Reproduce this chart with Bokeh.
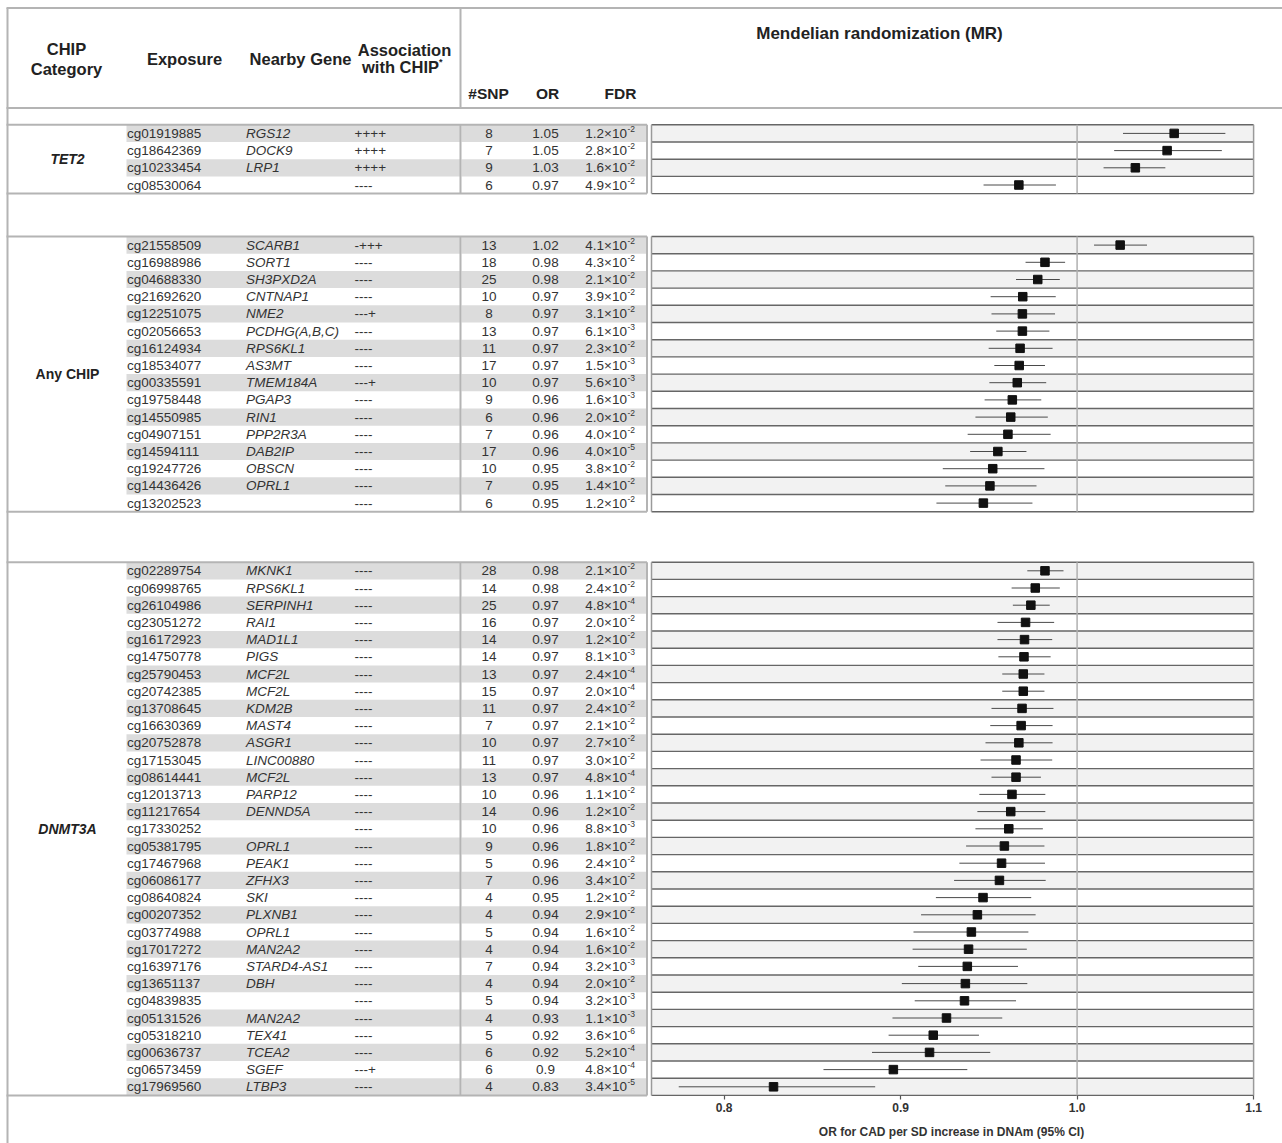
from bokeh.plotting import figure
from bokeh.models import ColumnDataSource, Range1d, LinearAxis, FixedTicker, PrintfTickFormatter
from bokeh.core.properties import value
from bokeh.embed import file_html
from bokeh.resources import INLINE

# ------------------------------------------------------------------ data
categories = ["TET2", "Any CHIP", "DNMT3A"]

tet2_exposure = ["cg01919885", "cg18642369", "cg10233454", "cg08530064"]
tet2_gene = ["RGS12", "DOCK9", "LRP1", ""]
tet2_assoc = ["++++", "++++", "++++", "----"]
tet2_snp = [8, 7, 9, 6]
tet2_or = ["1.05", "1.05", "1.03", "0.97"]
tet2_fdr_mant = ["1.2", "2.8", "1.6", "4.9"]
tet2_fdr_exp = ["-2", "-2", "-2", "-2"]
tet2_est = [1.055, 1.051, 1.033, 0.967]
tet2_lo = [1.026, 1.021, 1.015, 0.947]
tet2_hi = [1.084, 1.082, 1.050, 0.988]

any_exposure = ["cg21558509", "cg16988986", "cg04688330", "cg21692620", "cg12251075",
                "cg02056653", "cg16124934", "cg18534077", "cg00335591", "cg19758448",
                "cg14550985", "cg04907151", "cg14594111", "cg19247726", "cg14436426",
                "cg13202523"]
any_gene = ["SCARB1", "SORT1", "SH3PXD2A", "CNTNAP1", "NME2", "PCDHG(A,B,C)", "RPS6KL1",
            "AS3MT", "TMEM184A", "PGAP3", "RIN1", "PPP2R3A", "DAB2IP", "OBSCN", "OPRL1", ""]
any_assoc = ["-+++", "----", "----", "----", "---+", "----", "----", "----", "---+",
             "----", "----", "----", "----", "----", "----", "----"]
any_snp = [13, 18, 25, 10, 8, 13, 11, 17, 10, 9, 6, 7, 17, 10, 7, 6]
any_or = ["1.02", "0.98", "0.98", "0.97", "0.97", "0.97", "0.97", "0.97", "0.97",
          "0.96", "0.96", "0.96", "0.96", "0.95", "0.95", "0.95"]
any_fdr_mant = ["4.1", "4.3", "2.1", "3.9", "3.1", "6.1", "2.3", "1.5", "5.6", "1.6",
                "2.0", "4.0", "4.0", "3.8", "1.4", "1.2"]
any_fdr_exp = ["-2", "-2", "-2", "-2", "-2", "-3", "-2", "-3", "-3", "-3",
               "-2", "-2", "-5", "-2", "-2", "-2"]
any_est = [1.0244, 0.9818, 0.9777, 0.9692, 0.9690, 0.9690, 0.9677, 0.9672, 0.9661,
           0.9633, 0.9624, 0.9608, 0.9551, 0.9522, 0.9506, 0.9469]
any_lo = [1.0096, 0.9708, 0.9654, 0.9510, 0.9515, 0.9542, 0.9499, 0.9531, 0.9503,
          0.9476, 0.9424, 0.9380, 0.9394, 0.9239, 0.9253, 0.9203]
any_hi = [1.0396, 0.9932, 0.9902, 0.9879, 0.9875, 0.9843, 0.9861, 0.9818, 0.9825,
          0.9797, 0.9834, 0.9850, 0.9713, 0.9815, 0.9770, 0.9747]

dnmt_exposure = ["cg02289754", "cg06998765", "cg26104986", "cg23051272", "cg16172923",
                 "cg14750778", "cg25790453", "cg20742385", "cg13708645", "cg16630369",
                 "cg20752878", "cg17153045", "cg08614441", "cg12013713", "cg11217654",
                 "cg17330252", "cg05381795", "cg17467968", "cg06086177", "cg08640824",
                 "cg00207352", "cg03774988", "cg17017272", "cg16397176", "cg13651137",
                 "cg04839835", "cg05131526", "cg05318210", "cg00636737", "cg06573459",
                 "cg17969560"]
dnmt_gene = ["MKNK1", "RPS6KL1", "SERPINH1", "RAI1", "MAD1L1", "PIGS", "MCF2L", "MCF2L",
             "KDM2B", "MAST4", "ASGR1", "LINC00880", "MCF2L", "PARP12", "DENND5A", "",
             "OPRL1", "PEAK1", "ZFHX3", "SKI", "PLXNB1", "OPRL1", "MAN2A2", "STARD4-AS1",
             "DBH", "", "MAN2A2", "TEX41", "TCEA2", "SGEF", "LTBP3"]
dnmt_assoc = ["----"] * 29 + ["---+", "----"]
dnmt_snp = [28, 14, 25, 16, 14, 14, 13, 15, 11, 7, 10, 11, 13, 10, 14, 10, 9, 5, 7, 4,
            4, 5, 4, 7, 4, 5, 4, 5, 6, 6, 4]
dnmt_or = ["0.98", "0.98", "0.97", "0.97", "0.97", "0.97", "0.97", "0.97", "0.97", "0.97",
           "0.97", "0.97", "0.97", "0.96", "0.96", "0.96", "0.96", "0.96", "0.96", "0.95",
           "0.94", "0.94", "0.94", "0.94", "0.94", "0.94", "0.93", "0.92", "0.92", "0.9",
           "0.83"]
dnmt_fdr_mant = ["2.1", "2.4", "4.8", "2.0", "1.2", "8.1", "2.4", "2.0", "2.4", "2.1",
                 "2.7", "3.0", "4.8", "1.1", "1.2", "8.8", "1.8", "2.4", "3.4", "1.2",
                 "2.9", "1.6", "1.6", "3.2", "2.0", "3.2", "1.1", "3.6", "5.2", "4.8",
                 "3.4"]
dnmt_fdr_exp = ["-2", "-2", "-4", "-2", "-2", "-3", "-4", "-4", "-2", "-2",
                "-2", "-2", "-4", "-2", "-2", "-3", "-2", "-2", "-2", "-2",
                "-2", "-2", "-2", "-3", "-2", "-3", "-3", "-6", "-4", "-4",
                "-5"]
dnmt_est = [0.9818, 0.9763, 0.9738, 0.9708, 0.9702, 0.9699, 0.9695, 0.9695, 0.9688, 0.9683,
            0.9670, 0.9654, 0.9654, 0.9631, 0.9624, 0.9613, 0.9588, 0.9572, 0.9560, 0.9467,
            0.9435, 0.9401, 0.9385, 0.9378, 0.9367, 0.9362, 0.9260, 0.9185, 0.9164, 0.8959,
            0.8280]
dnmt_lo = [0.9718, 0.9629, 0.9636, 0.9549, 0.9549, 0.9554, 0.9576, 0.9576, 0.9515, 0.9508,
           0.9481, 0.9453, 0.9515, 0.9446, 0.9435, 0.9424, 0.9371, 0.9333, 0.9303, 0.9200,
           0.9116, 0.9073, 0.9068, 0.9100, 0.9007, 0.9080, 0.8954, 0.8932, 0.8838, 0.8563,
           0.7743]
dnmt_hi = [0.9923, 0.9902, 0.9845, 0.9870, 0.9859, 0.9850, 0.9815, 0.9815, 0.9866, 0.9861,
           0.9861, 0.9859, 0.9795, 0.9820, 0.9820, 0.9806, 0.9815, 0.9818, 0.9822, 0.9740,
           0.9765, 0.9724, 0.9715, 0.9665, 0.9718, 0.9654, 0.9576, 0.9444, 0.9508, 0.9378,
           0.8856]

header_texts = ["CHIP", "Category", "Exposure", "Nearby Gene", "Association", "with CHIP"]
stat_headers = ["#SNP", "OR", "FDR"]
mr_title = "Mendelian randomization (MR)"
tick_values = [0.8, 0.9, 1.0, 1.1]
axis_title = "OR for CAD per SD increase in DNAm (95% CI)"

# ------------------------------------------------------------------ layout
FONT = "Liberation Sans"
TXT = "#333333"
PX_REF, PX_PER_UNIT = 1076.6, 1765.0
W, H = 1282, 1143


def X(px):
    """page pixel column -> data x (OR units)"""
    return 1.0 + (px - PX_REF) / PX_PER_UNIT


PITCH = 17.2
section_tops = [124.3, 236.0, 561.7]
FOREST_L, FOREST_R = X(651), 1.1
BOX_EDGE = "#b4b4b4"

p = figure(width=W, height=H, x_range=Range1d(X(0), X(W)),
           y_range=Range1d(H, 0), output_backend="svg", toolbar_location=None,
           min_border=0, x_axis_type=None, y_axis_type=None)
p.outline_line_color = None
p.background_fill_color = "white"
p.border_fill_color = "white"

# header frame
p.segment(x0=[X(6), X(6)], y0=[7.5, 107.5], x1=[X(W), X(W)], y1=[7.5, 107.5],
          line_color=BOX_EDGE, line_width=2)
p.segment(x0=[X(460)], y0=[7.5], x1=[X(460)], y1=[107.5], line_color=BOX_EDGE, line_width=2)
# outer left border, full height
p.segment(x0=[X(7)], y0=[7.5], x1=[X(7)], y1=[H], line_color=BOX_EDGE, line_width=2)

sections = [
    (categories[0], "bold italic", tet2_exposure, tet2_gene, tet2_assoc, tet2_snp, tet2_or,
     tet2_fdr_mant, tet2_fdr_exp, tet2_est, tet2_lo, tet2_hi),
    (categories[1], "bold", any_exposure, any_gene, any_assoc, any_snp, any_or,
     any_fdr_mant, any_fdr_exp, any_est, any_lo, any_hi),
    (categories[2], "bold italic", dnmt_exposure, dnmt_gene, dnmt_assoc, dnmt_snp, dnmt_or,
     dnmt_fdr_mant, dnmt_fdr_exp, dnmt_est, dnmt_lo, dnmt_hi),
]

last_bottom = None
for top, sec in zip(section_tops, sections):
    (cat, cat_style, expo, gene, assoc, snp, orv, mant, expn, est, lo, hi) = sec
    n = len(expo)
    bottom = top + n * PITCH
    last_bottom = bottom
    ys = [top + (i + 0.5) * PITCH for i in range(n)]
    rt = [top + i * PITCH for i in range(n)]
    rb = [top + (i + 1) * PITCH for i in range(n)]
    odd = [i for i in range(n) if i % 2 == 0]

    # shaded bands
    p.quad(left=[X(126)] * len(odd), right=[X(459.5)] * len(odd),
           top=[rt[i] for i in odd], bottom=[rb[i] for i in odd],
           fill_color="#dcdcdc", line_color=None)
    p.quad(left=[X(461)] * len(odd), right=[X(645.5)] * len(odd),
           top=[rt[i] for i in odd], bottom=[rb[i] for i in odd],
           fill_color="#dcdcdc", line_color=None)
    p.quad(left=[FOREST_L] * len(odd), right=[FOREST_R] * len(odd),
           top=[rt[i] for i in odd], bottom=[rb[i] for i in odd],
           fill_color="#f2f2f2", line_color=None)

    # table boxes
    p.segment(x0=[X(6), X(6)], y0=[top, bottom], x1=[X(646.5), X(646.5)], y1=[top, bottom],
              line_color=BOX_EDGE, line_width=2)
    p.segment(x0=[X(460), X(646.5)], y0=[top, top], x1=[X(460), X(646.5)], y1=[bottom, bottom],
              line_color=BOX_EDGE, line_width=2)

    # forest rows
    seps = [top + i * PITCH for i in range(n + 1)]
    p.segment(x0=[FOREST_L] * len(seps), y0=seps, x1=[FOREST_R] * len(seps), y1=seps,
              line_color="#666666", line_width=1.4)
    p.segment(x0=[FOREST_L, FOREST_R], y0=[top, top], x1=[FOREST_L, FOREST_R],
              y1=[bottom, bottom], line_color="#9a9a9a", line_width=1.5)
    p.segment(x0=[1.0], y0=[top], x1=[1.0], y1=[bottom], line_color="#b0b0b0", line_width=1.5)

    src = ColumnDataSource(dict(
        y=ys, expo=expo, gene=gene, assoc=assoc, snp=[str(s) for s in snp], orv=orv,
        base=[m + "\u00d710" for m in mant], expn=expn, ye=[y - 4.5 for y in ys],
        est=est, lo=lo, hi=hi))

    p.segment(x0="lo", y0="y", x1="hi", y1="y", source=src, line_color="#4a4a4a", line_width=1)
    p.scatter(x="est", y="y", source=src, marker="square", size=8.5,
              fill_color="#111111", line_color="#111111")

    common = dict(source=src, text_font=value(FONT), text_font_size=value("13.5px"),
                  text_color=TXT, text_baseline="middle")
    p.text(x=X(126.5), y="y", text="expo", text_align="left", **common)
    p.text(x=X(245.5), y="y", text="gene", text_align="left", text_font_style="italic", **common)
    p.text(x=X(354), y="y", text="assoc", text_align="left", **common)
    p.text(x=X(488.5), y="y", text="snp", text_align="center", **common)
    p.text(x=X(545), y="y", text="orv", text_align="center", **common)
    p.text(x=X(626.5), y="y", text="base", text_align="right", **common)
    p.text(x=X(627), y="ye", text="expn", source=src, text_font=value(FONT),
           text_font_size=value("8.5px"), text_color=TXT, text_baseline="middle",
           text_align="left")

    p.text(x=[X(67)], y=[(top + bottom) / 2], text=[cat], text_font=value(FONT),
           text_font_size=value("14px"), text_font_style=cat_style, text_color="#222222",
           text_align="center", text_baseline="middle")

# header texts
hx = [X(66), X(66), X(184), X(300), X(404), X(400)]
hy = [48, 68, 58, 58, 49, 66]
p.text(x=hx, y=hy, text=header_texts, text_font=value(FONT), text_font_size=value("16.5px"),
       text_font_style="bold", text_color="#222222", text_align="center",
       text_baseline="middle")
p.text(x=[X(438.5)], y=[61], text=["*"], text_font=value(FONT), text_font_size=value("9px"),
       text_font_style="bold", text_color="#222222", text_align="left",
       text_baseline="middle")
p.text(x=[X(488), X(547), X(620)], y=[93, 93, 93], text=stat_headers, text_font=value(FONT),
       text_font_size=value("15.5px"), text_font_style="bold", text_color="#222222",
       text_align="center", text_baseline="middle")
p.text(x=[X(879)], y=[33], text=[mr_title], text_font=value(FONT),
       text_font_size=value("17px"), text_font_style="bold", text_color="#222222",
       text_align="center", text_baseline="middle")

# OR axis under the forest panel
ax = LinearAxis(ticker=FixedTicker(ticks=tick_values), fixed_location=last_bottom,
                formatter=PrintfTickFormatter(format="%.1f"))
ax.axis_line_color = None
ax.major_tick_in = 0
ax.major_tick_out = 4
ax.major_tick_line_color = "#555555"
ax.major_tick_line_width = 1.2
ax.minor_tick_line_color = None
ax.major_label_standoff = 4
ax.major_label_text_font = FONT
ax.major_label_text_font_size = "12px"
ax.major_label_text_font_style = "bold"
ax.major_label_text_color = TXT
p.add_layout(ax, "below")

p.text(x=[X(951)], y=[1131], text=[axis_title], text_font=value(FONT),
       text_font_size=value("12px"), text_font_style="bold", text_color=TXT,
       text_align="center", text_baseline="middle")

open("out.html", "w").write(file_html(p, INLINE))
